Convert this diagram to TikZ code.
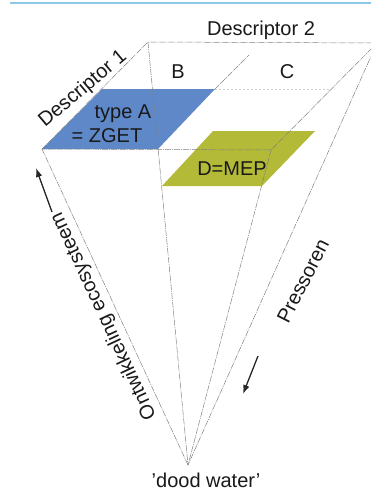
\documentclass[tikz,border=0pt]{standalone}
\usepackage{fontspec}
\setmainfont{Liberation Sans}
\usetikzlibrary{arrows.meta}
\definecolor{topblue}{RGB}{140,200,230}
\definecolor{typeblue}{RGB}{94,136,200}
\definecolor{olivefill}{RGB}{178,186,56}
\begin{document}
\begin{tikzpicture}[x=1pt,y=-1pt,
  edge/.style={draw=black!50, line width=0.5pt, dash pattern=on 6pt off 1pt on 1pt off 1pt},
  faint/.style={draw=black!18, line width=0.4pt, dash pattern=on 2pt off 2pt},
  lbl/.style={font=\fontsize{20}{24}\selectfont, inner sep=0pt, text=black!90},
  arr/.style={-{Latex[length=9pt,width=6.5pt]}, line width=1.3pt, black!85}]
\useasboundingbox (0,0) rectangle (371,490);
\clip (0,0) rectangle (371,490);
% top rule
\coordinate (r1) at (10,3);
\coordinate (r2) at (371,3);
\draw[topblue, line width=2pt] (r1) -- (r2);
% corners
\coordinate (FL) at (42,149);
\coordinate (FR) at (271,150);
\coordinate (BL) at (148,42);
\coordinate (BR) at (377,43);
\coordinate (apex) at (188,465);
% fills
\coordinate (a1) at (42,149);
\coordinate (a2) at (158,149);
\coordinate (a3) at (215,89);
\coordinate (a4) at (102,89);
\fill[typeblue] (a1) -- (a2) -- (a3) -- (a4) -- cycle;
\coordinate (d1) at (162,186);
\coordinate (d2) at (262,186);
\coordinate (d3) at (315,131);
\coordinate (d4) at (213,131);
\fill[olivefill] (d1) -- (d2) -- (d3) -- (d4) -- cycle;
% base plane
\draw[edge] (FL) -- (BL) -- (BR) -- (FR) -- (FL);
\coordinate (bc) at (249,55);
\draw[edge] (a3) -- (bc);
\coordinate (m2) at (331,89);
\draw[faint] (a3) -- (m2);
% edges to apex
\draw[edge] (FL) -- (apex);
\draw[edge] (BL) -- (apex);
\draw[edge] (FR) -- (apex);
\draw[edge] (BR) -- (apex);
% arrows
\coordinate (la1) at (52,212);
\coordinate (la2) at (36,168);
\draw[arr] (la1) -- (la2);
\coordinate (ra1) at (258,356);
\coordinate (ra2) at (243,394);
\draw[arr] (ra1) -- (ra2);
% labels
\node[lbl, anchor=base] (d2lbl) at (261,35) {Descriptor 2};
\node[lbl, rotate=40] (d1lbl) at (83,89) {Descriptor 1};
\node[lbl, anchor=base] (blbl) at (178,78) {B};
\node[lbl, anchor=base] (clbl) at (287,78) {C};
\node[lbl, anchor=base] (tA) at (123,118) {type A};
\node[lbl, anchor=base] (zg) at (107,142) {= ZGET};
\node[lbl, anchor=base] (mep) at (232,175) {D=MEP};
\node[lbl, rotate=63] (pres) at (303,281) {Pressoren};
\node[lbl, rotate=115] (ontw) at (104,316) {Ontwikkeling ecosysteem};
\node[lbl, anchor=base] (dood) at (206,487) {'dood water'};
\end{tikzpicture}
\end{document}
